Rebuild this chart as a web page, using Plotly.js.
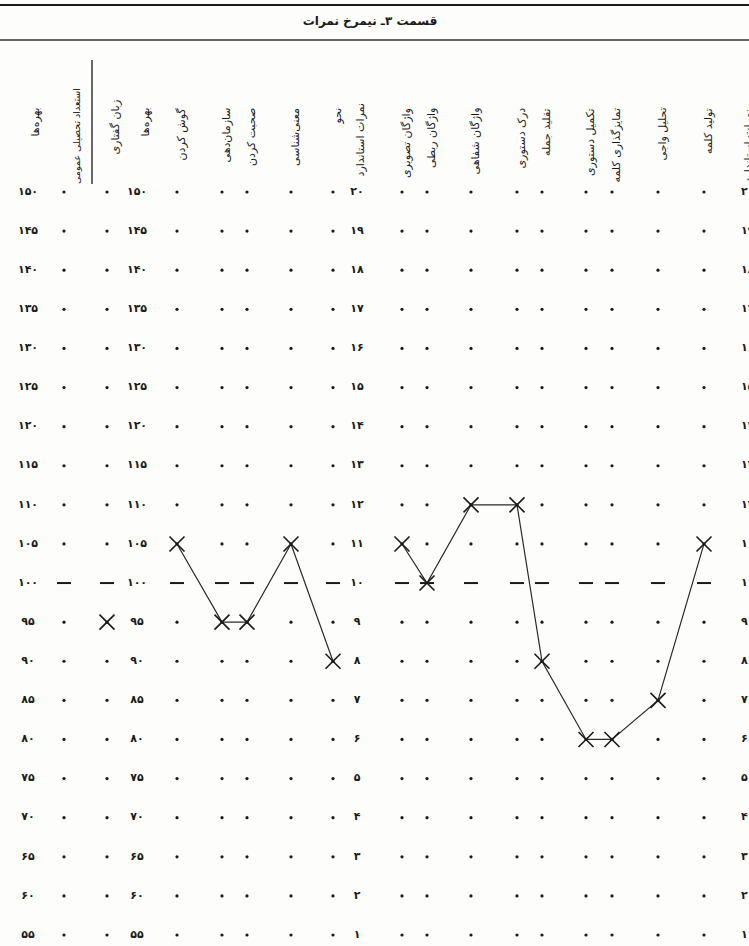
<!DOCTYPE html>
<html><head><meta charset="utf-8">
<script src="https://cdn.plot.ly/plotly-3.0.1.min.js"></script>
<style>html,body{margin:0;padding:0;background:#fff}#chart{width:749px;height:946px}</style>
</head><body><div id="chart"></div>
<script>
// ---------------- DATA ----------------
const chartTitle = "قسمت ۳ـ نیمرخ نمرات";
const quotientHeader = "بهره‌ها";
const standardHeader = "نمرات استاندارد";
const quotientTicks = [150,145,140,135,130,125,120,115,110,105,100,95,90,85,80,75,70,65,60,55];
const quotientLabels = ["۱۵۰","۱۴۵","۱۴۰","۱۳۵","۱۳۰","۱۲۵","۱۲۰","۱۱۵","۱۱۰","۱۰۵","۱۰۰","۹۵","۹۰","۸۵","۸۰","۷۵","۷۰","۶۵","۶۰","۵۵"];
const standardTicks = [20,19,18,17,16,15,14,13,12,11,10,9,8,7,6,5,4,3,2,1];
const standardLabels = ["۲۰","۱۹","۱۸","۱۷","۱۶","۱۵","۱۴","۱۳","۱۲","۱۱","۱۰","۹","۸","۷","۶","۵","۴","۳","۲","۱"];
const aptitudeColumn = "استعداد تحصیلی عمومی";
const spokenColumn = "زبان گفتاری";
const spokenValues = [95];
const compositeColumns = ["گوش کردن","سازمان‌دهی","صحبت کردن","معنی‌شناسی","نحو"];
const compositeValues = [105,95,95,105,90];
const subtestColumns = ["واژگان تصویری","واژگان ربطی","واژگان شفاهی","درک دستوری","تقلید جمله","تکمیل دستوری","تمایزگذاری کلمه","تحلیل واجی","تولید کلمه"];
const subtestValues = [11,10,12,12,8,6,6,7,11];
const meanQuotient = 100;
const meanStandard = 10;

// ---------------- LAYOUT (column slots on the x scale) ----------------
const slot = {
  quotientLeft: 28, quotientMid: 137, standardMid: 357, standardRight: 741
};
const columnSlots = [64,107,177,222,247,291,333,402,427,471,517,542,586,612,658,704];
const quotientColumns = [aptitudeColumn, spokenColumn].concat(compositeColumns);
const allColumns = quotientColumns.concat(subtestColumns);
const colX = {};
allColumns.forEach((c,i)=>colX[c]=columnSlots[i]);

const ink = '#1a1a1a';
const fontFam = 'DejaVu Sans, sans-serif';
const traces = [];

function gridTraces(cols, ticks, mean, yaxis){
  const dx=[],dy=[],mx=[],my=[];
  cols.forEach(c=>ticks.forEach(t=>{
    if(t===mean){mx.push(colX[c]);my.push(t);} else {dx.push(colX[c]);dy.push(t);}
  }));
  traces.push({type:'scatter',mode:'markers',x:dx,y:dy,yaxis:yaxis,
    marker:{symbol:'circle',size:3.2,color:ink},hoverinfo:'skip',showlegend:false});
  traces.push({type:'scatter',mode:'markers',x:mx,y:my,yaxis:yaxis,
    marker:{symbol:'line-ew',size:10,line:{width:2,color:ink}},hoverinfo:'skip',showlegend:false});
}
gridTraces(quotientColumns, quotientTicks, meanQuotient, 'y');
gridTraces(subtestColumns, standardTicks, meanStandard, 'y2');

function labelTrace(xpos, ticks, labels, yaxis, pos){
  traces.push({type:'scatter',mode:'text',x:ticks.map(()=>xpos),y:ticks,text:labels,yaxis:yaxis,
    textposition:pos||'middle center',textfont:{family:fontFam,size:11,color:ink,weight:'bold'},
    hoverinfo:'skip',showlegend:false});
}
labelTrace(slot.quotientLeft, quotientTicks, quotientLabels, 'y');
labelTrace(slot.quotientMid, quotientTicks, quotientLabels, 'y');
labelTrace(slot.standardMid, standardTicks, standardLabels, 'y2');
labelTrace(slot.standardRight, standardTicks, standardLabels, 'y2', 'middle right');

const xMarker = {symbol:'x-thin',size:15,line:{width:1.6,color:ink}};
traces.push({type:'scatter',mode:'markers',x:[colX[spokenColumn]],y:spokenValues,
  marker:xMarker,hoverinfo:'skip',showlegend:false});
traces.push({type:'scatter',mode:'lines+markers',x:compositeColumns.map(c=>colX[c]),y:compositeValues,
  line:{color:'#2a2a2a',width:1.2},marker:xMarker,hoverinfo:'skip',showlegend:false});
traces.push({type:'scatter',mode:'lines+markers',x:subtestColumns.map(c=>colX[c]),y:subtestValues,yaxis:'y2',
  line:{color:'#2a2a2a',width:1.2},marker:xMarker,hoverinfo:'skip',showlegend:false});

// headers
const H = 946, W = 749;
const headerTop = 1 - 106/H;
const annotations = [];
function header(x, text, top, size){
  annotations.push({xref:'x',yref:'paper',x:x,y:top===undefined?headerTop:top,xanchor:'center',yanchor:'top',
    text:text,textangle:-90,showarrow:false,font:{family:fontFam,size:size||11,color:ink}});
}
header(slot.quotientLeft+7, quotientHeader);
header(colX[aptitudeColumn]+12, aptitudeColumn, 1-86/H, 9.5);
header(colX[spokenColumn]+8, spokenColumn, 1-98/H);
header(slot.quotientMid+8, quotientHeader);
compositeColumns.forEach(c=>header(colX[c]+4, c));
header(slot.standardMid+3, standardHeader, 1-102/H);
subtestColumns.forEach(c=>header(colX[c]+4, c));
header(slot.standardRight+7, standardHeader, 1-108/H);

// y mapping: 150 at 192px, 55 at 935px
const pxPer = (935-192)/95;
const yTop = 150 + 192/pxPer, yBot = 55 - (H-935)/pxPer;

const layout = {
  width:W,height:H,margin:{l:0,r:0,t:0,b:0},
  paper_bgcolor:'#fdfdfb',plot_bgcolor:'rgba(0,0,0,0)',
  title:{text:'<b>'+chartTitle+'</b>',x:370/W,y:1-21/H,xanchor:'center',yanchor:'middle',
    font:{family:fontFam,size:12,color:ink}},
  xaxis:{range:[0,W],visible:false,fixedrange:true},
  yaxis:{range:[yBot,yTop],visible:false,fixedrange:true},
  yaxis2:{range:[(yBot-50)/5,(yTop-50)/5],overlaying:'y',visible:false,fixedrange:true},
  shapes:[
    {type:'line',xref:'paper',yref:'paper',x0:0,x1:1,y0:1-5/H,y1:1-5/H,line:{color:ink,width:2}},
    {type:'line',xref:'paper',yref:'paper',x0:0,x1:1,y0:1-40/H,y1:1-40/H,line:{color:'#333',width:1.3}},
    {type:'line',xref:'x',yref:'paper',x0:92,x1:92,y0:1-60/H,y1:1-184/H,line:{color:ink,width:1.3}}
  ],
  annotations:annotations,
  showlegend:false
};
Plotly.newPlot('chart',traces,layout,{staticPlot:true,displayModeBar:false});
</script></body></html>
